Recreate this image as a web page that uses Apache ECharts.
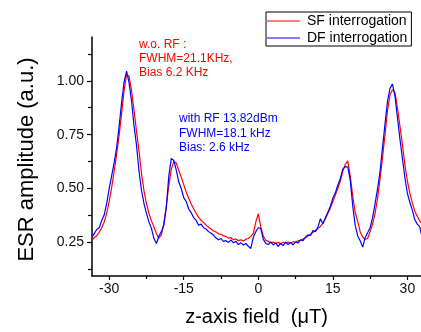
<!DOCTYPE html>
<html>
<head>
<meta charset="utf-8">
<script src="https://cdn.jsdelivr.net/npm/echarts@6/dist/echarts.min.js"></script>
<style>
html,body{margin:0;padding:0;background:#fff;}
#chart{width:421px;height:332px;}
</style>
</head>
<body>
<div id="chart"></div>
<script>
// z-axis field (µT)
var fieldUT = [
  -33.4, -33, -32.5, -32, -31.5, -31, -30.5, -30, -29.5, -29,
  -28.5, -28, -27.5, -27, -26.5, -26, -25.5, -25, -24.5, -24,
  -23.5, -23, -22.5, -22, -21.5, -21, -20.5, -20, -19.5, -19,
  -18.5, -18, -17.5, -17, -16.5, -16, -15.5, -15, -14.5, -14,
  -13.5, -13, -12.5, -12, -11.5, -11, -10.5, -10, -9.5, -9,
  -8.5, -8, -7.5, -7, -6.5, -6, -5.5, -5, -4.5, -4,
  -3.5, -3, -2.5, -2, -1.5, -1, -0.5, 0, 0.5, 1,
  1.5, 2, 2.5, 3, 3.5, 4, 4.5, 5, 5.5, 6,
  6.5, 7, 7.5, 8, 8.5, 9, 9.5, 10, 10.5, 11,
  11.5, 12, 12.5, 13, 13.5, 14, 14.5, 15, 15.5, 16,
  16.5, 17, 17.5, 18, 18.5, 19, 19.5, 20, 20.5, 21,
  21.5, 22, 22.5, 23, 23.5, 24, 24.5, 25, 25.5, 26,
  26.5, 27, 27.5, 28, 28.5, 29, 29.5, 30, 30.5, 31,
  31.5, 32, 32.5, 32.8
];
// SF interrogation (red)
var sfAmp = [
  0.262, 0.272, 0.281, 0.297, 0.318, 0.345, 0.386, 0.440, 0.505, 0.580,
  0.659, 0.748, 0.850, 0.955, 1.028, 1.022, 0.955, 0.862, 0.765, 0.675,
  0.570, 0.490, 0.430, 0.385, 0.350, 0.322, 0.290, 0.270, 0.285, 0.340,
  0.420, 0.515, 0.590, 0.625, 0.618, 0.585, 0.552, 0.518, 0.483, 0.455,
  0.428, 0.405, 0.385, 0.366, 0.352, 0.342, 0.330, 0.320, 0.312, 0.303,
  0.298, 0.290, 0.288, 0.280, 0.278, 0.270, 0.272, 0.263, 0.266, 0.258,
  0.262, 0.257, 0.265, 0.268, 0.278, 0.292, 0.345, 0.382, 0.322, 0.280,
  0.260, 0.255, 0.248, 0.252, 0.245, 0.250, 0.244, 0.251, 0.246, 0.252,
  0.247, 0.253, 0.252, 0.257, 0.260, 0.266, 0.272, 0.280, 0.288, 0.296,
  0.306, 0.314, 0.324, 0.340, 0.360, 0.385, 0.410, 0.440, 0.470, 0.500,
  0.535, 0.580, 0.612, 0.628, 0.558, 0.465, 0.390, 0.348, 0.300, 0.275,
  0.264, 0.268, 0.300, 0.335, 0.385, 0.455, 0.545, 0.645, 0.750, 0.862,
  0.935, 0.958, 0.945, 0.875, 0.790, 0.705, 0.610, 0.535, 0.478, 0.432,
  0.395, 0.370, 0.350, 0.341
];
// DF interrogation (blue)
var dfAmp = [
  0.275, 0.292, 0.310, 0.318, 0.352, 0.378, 0.432, 0.500, 0.560, 0.620,
  0.690, 0.790, 0.900, 0.995, 1.045, 0.990, 0.905, 0.790, 0.700, 0.580,
  0.492, 0.430, 0.385, 0.345, 0.315, 0.268, 0.245, 0.280, 0.300, 0.330,
  0.415, 0.560, 0.640, 0.630, 0.585, 0.530, 0.500, 0.458, 0.440, 0.405,
  0.388, 0.365, 0.352, 0.330, 0.335, 0.318, 0.312, 0.300, 0.292, 0.284,
  0.270, 0.262, 0.268, 0.255, 0.258, 0.250, 0.262, 0.248, 0.255, 0.240,
  0.248, 0.238, 0.245, 0.232, 0.222, 0.275, 0.300, 0.318, 0.315, 0.265,
  0.245, 0.240, 0.252, 0.238, 0.248, 0.232, 0.245, 0.235, 0.252, 0.240,
  0.250, 0.238, 0.252, 0.248, 0.262, 0.258, 0.275, 0.285, 0.282, 0.305,
  0.300, 0.320, 0.360, 0.335, 0.365, 0.390, 0.418, 0.455, 0.480, 0.515,
  0.545, 0.590, 0.602, 0.600, 0.540, 0.420, 0.330, 0.280, 0.258, 0.228,
  0.272, 0.295, 0.318, 0.365, 0.430, 0.500, 0.580, 0.690, 0.800, 0.905,
  0.965, 0.985, 0.930, 0.830, 0.730, 0.640, 0.550, 0.478, 0.435, 0.400,
  0.355, 0.335, 0.322, 0.288
];
var xTickValues = [-30, -15, 0, 15, 30];
var xMinorTickValues = [-22.5, -7.5, 7.5, 22.5];
var yTickValues = [0.25, 0.50, 0.75, 1.00];
var yMinorTickValues = [0.125, 0.375, 0.625, 0.875, 1.125];
var seriesNames = ['SF interrogation', 'DF interrogation'];
var noteRF = ['w.o. RF :', 'FWHM=21.1KHz,', 'Bias 6.2 KHz'];
var noteWithRF = ['with RF 13.82dBm', 'FWHM=18.1 kHz', 'Bias: 2.6 kHz'];

function pairs(xs, ys) {
  var out = [];
  for (var i = 0; i < xs.length; i++) out.push([xs[i], ys[i]]);
  return out;
}

var FONT = '"Liberation Sans", Arial, sans-serif';
var X_MIN = -33.46, X_MAX = 32.74, Y_MIN = 0.0941, Y_MAX = 1.2032;

var graphics = [];
noteRF.forEach(function (t, i) {
  graphics.push({type: 'text', left: 139, top: 38.5 + i * 14.3, z: 100,
    style: {text: t, fill: '#ff0000', font: '12px ' + FONT}});
});
noteWithRF.forEach(function (t, i) {
  graphics.push({type: 'text', left: 179, top: 112.5 + i * 14.7, z: 100,
    style: {text: t, fill: '#0000ff', font: '12px ' + FONT}});
});

var chart = echarts.init(document.getElementById('chart'), null, {renderer: 'canvas'});
chart.setOption({
  animation: false,
  backgroundColor: '#ffffff',
  textStyle: {fontFamily: FONT},
  grid: {left: 92, right: 0, top: 37, bottom: 51, containLabel: false},
  legend: {
    data: seriesNames,
    orient: 'vertical',
    left: 266, top: 12,
    padding: [2, 4, 1, 1],
    itemGap: 3,
    itemWidth: 33, itemHeight: 14,
    icon: 'path://M0,0H33V1H0Z',
    borderColor: '#000', borderWidth: 1,
    backgroundColor: '#fff',
    textStyle: {fontSize: 14, color: '#000', fontFamily: FONT, padding: [0, 0, 0, 2]}
  },
  xAxis: [{
    type: 'value', min: X_MIN, max: X_MAX, position: 'bottom',
    name: 'z-axis field  (\u03bcT)', nameLocation: 'middle', nameGap: 31,
    nameTextStyle: {fontSize: 20, color: '#000', fontFamily: FONT},
    axisLine: {show: true, onZero: false, lineStyle: {color: '#000', width: 1.5}},
    axisTick: {show: true, inside: false, length: 4, customValues: xTickValues, lineStyle: {color: '#000', width: 1.2}},
    axisLabel: {show: true, customValues: xTickValues, margin: 6, fontSize: 14, color: '#111', fontFamily: FONT,
      formatter: function (v) { return String(v); }},
    splitLine: {show: false}
  }, {
    type: 'value', min: X_MIN, max: X_MAX, position: 'bottom', offset: 0,
    axisLine: {show: false, onZero: false},
    axisTick: {show: true, inside: false, length: 3, customValues: xMinorTickValues, lineStyle: {color: '#000', width: 1.2}},
    axisLabel: {show: false},
    splitLine: {show: false}
  }],
  yAxis: [{
    type: 'value', min: Y_MIN, max: Y_MAX, position: 'left',
    name: 'ESR amplitude (a.u.)', nameLocation: 'middle', nameGap: 54,
    nameTextStyle: {fontSize: 22, color: '#000', fontFamily: FONT, padding: [0, 6, 0, 0]},
    axisLine: {show: true, onZero: false, lineStyle: {color: '#000', width: 1.5}},
    axisTick: {show: true, inside: false, length: 5, customValues: yTickValues, lineStyle: {color: '#000', width: 1.2}},
    axisLabel: {show: true, customValues: yTickValues, margin: 8, fontSize: 14, color: '#111', fontFamily: FONT,
      formatter: function (v) { return v.toFixed(2); }},
    splitLine: {show: false}
  }, {
    type: 'value', min: Y_MIN, max: Y_MAX, position: 'left', offset: 0,
    axisLine: {show: false, onZero: false},
    axisTick: {show: true, inside: false, length: 4, customValues: yMinorTickValues, lineStyle: {color: '#000', width: 1.2}},
    axisLabel: {show: false},
    splitLine: {show: false}
  }],
  series: [{
    name: seriesNames[0], type: 'line', xAxisIndex: 0, yAxisIndex: 0,
    data: pairs(fieldUT, sfAmp), symbol: 'none', smooth: false, clip: true,
    lineStyle: {color: '#ff0000', width: 1.2}, itemStyle: {color: '#ff0000'}, z: 2
  }, {
    name: seriesNames[1], type: 'line', xAxisIndex: 0, yAxisIndex: 0,
    data: pairs(fieldUT, dfAmp), symbol: 'none', smooth: false, clip: true,
    lineStyle: {color: '#0000ff', width: 1.2}, itemStyle: {color: '#0000ff'}, z: 3
  }],
  graphic: graphics
});
</script>
</body>
</html>
